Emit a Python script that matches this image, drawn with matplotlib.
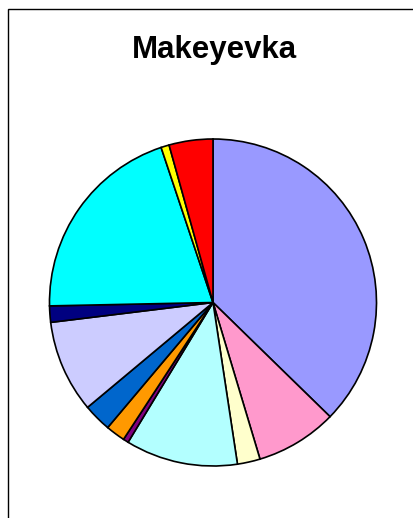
import matplotlib.pyplot as plt
from matplotlib.patches import Rectangle

# quote in percent, clockwise from the top
quote = [37.3, 8.06, 2.25, 11.08, 0.53, 1.92, 2.78, 9.14, 1.61, 20.19, 0.81, 4.33]
colori = ["#9999FF", "#FF99CC", "#FFFFCC", "#B3FFFF", "#800080", "#FF9900",
          "#0066CC", "#CCCCFF", "#000080", "#00FFFF", "#FFFF00", "#FF0000"]
titolo = "Makeyevka"

W, H = 413, 518
fig = plt.figure(figsize=(W / 100, H / 100), dpi=100)
ax = fig.add_axes([0, 0, 1, 1])
ax.set_xlim(0, W)
ax.set_ylim(0, H)
ax.set_aspect("equal")
ax.axis("off")

# cornice del grafico
ax.add_patch(Rectangle((7.5, -20), W + 20, H - 9 + 20, fill=False,
                       edgecolor="black", linewidth=1.0))

ax.pie(quote, colors=colori, startangle=90, counterclock=False,
       center=(213, H - 302.5), radius=163.5,
       wedgeprops=dict(edgecolor="black", linewidth=1.2))
ax.set_xlim(0, W)
ax.set_ylim(0, H)

ax.text(214, H - 58, titolo, ha="center", va="baseline", fontsize=22.5,
        fontweight="bold", family="Liberation Sans")

fig.savefig("out.png", dpi=100)
plt.close(fig)
